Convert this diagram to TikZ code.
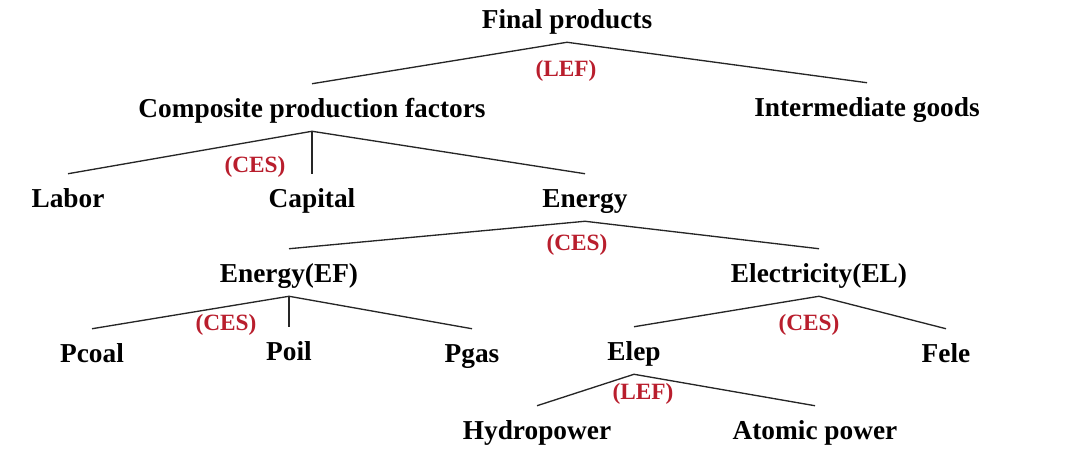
\documentclass[tikz,border=0pt]{standalone}
\usepackage{fontspec}
\setmainfont{Liberation Serif}
\definecolor{cesred}{RGB}{185,30,45}

\begin{document}
\begin{tikzpicture}[x=0.75pt,y=-0.75pt,
  item/.style={inner sep=0pt,anchor=base,text height=24.75pt,text depth=10.5pt,
    font=\fontsize{20.5}{24}\selectfont\bfseries},
  rate/.style={inner sep=0pt,anchor=base,text=cesred,
    font=\fontsize{17.5}{21}\selectfont\bfseries},
  link/.style={draw=black!85,line width=1pt}]
  \useasboundingbox (0,0) rectangle (1067,450);

  \node[item] (final) at (567,28) {Final products};
  \node[item] (compo) at (312,117) {Composite production factors};
  \node[item] (inter) at (867,116) {Intermediate goods};
  \node[item] (labor) at (68,207) {Labor};
  \node[item] (capital) at (312,207) {Capital};
  \node[item] (energy) at (585,207) {Energy};
  \node[item] (ef) at (289,282) {Energy(EF)};
  \node[item] (el) at (819,282) {Electricity(EL)};
  \node[item] (pcoal) at (92,362) {Pcoal};
  \node[item] (poil) at (289,360) {Poil};
  \node[item] (pgas) at (472,362) {Pgas};
  \node[item] (elep) at (634,360) {Elep};
  \node[item] (fele) at (946,362) {Fele};
  \node[item] (hydro) at (537,439) {Hydropower};
  \node[item] (atomic) at (815,439) {Atomic power};

  % substitution rules
  \node[rate] (lefTop) at (566,76) {(LEF)};
  \node[rate] (cesCompo) at (255,172) {(CES)};
  \node[rate] (cesEnergy) at (577,250) {(CES)};
  \node[rate] (cesEF) at (226,330) {(CES)};
  \node[rate] (cesEL) at (809,330) {(CES)};
  \node[rate] (lefElep) at (643,399) {(LEF)};

  \draw[link] (final.south) -- (compo.north);
  \draw[link] (final.south) -- (inter.north);
  \draw[link] (compo.south) -- (labor.north);
  \draw[link] (compo.south) -- (capital.north);
  \draw[link] (compo.south) -- (energy.north);
  \draw[link] (energy.south) -- (ef.north);
  \draw[link] (energy.south) -- (el.north);
  \draw[link] (ef.south) -- (pcoal.north);
  \draw[link] (ef.south) -- (poil.north);
  \draw[link] (ef.south) -- (pgas.north);
  \draw[link] (el.south) -- (elep.north);
  \draw[link] (el.south) -- (fele.north);
  \draw[link] (elep.south) -- (hydro.north);
  \draw[link] (elep.south) -- (atomic.north);
\end{tikzpicture}
\end{document}
